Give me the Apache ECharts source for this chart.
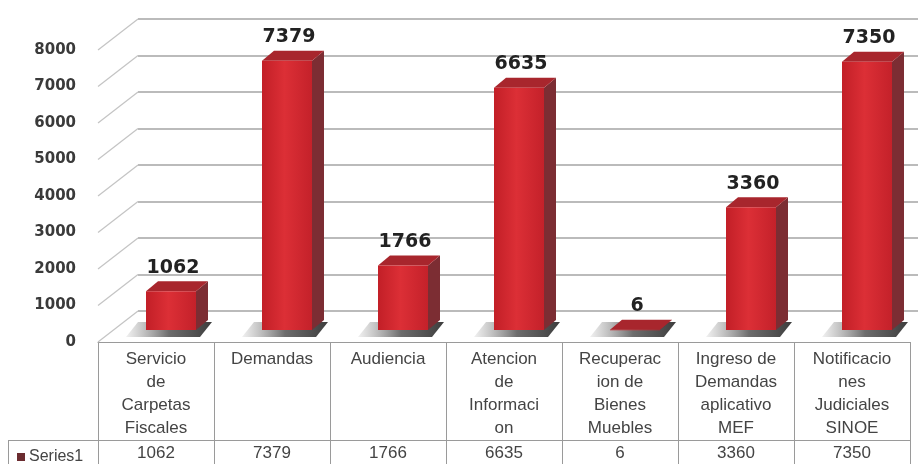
<!DOCTYPE html>
<html>
<head>
<meta charset="utf-8">
<script src="https://cdn.jsdelivr.net/npm/echarts@6/dist/echarts.min.js"></script>
<style>
  html, body { margin: 0; padding: 0; background: #fff; }
  #chart { width: 918px; height: 464px; }
</style>
</head>
<body>
<div id="chart"></div>
<script>
// datos
var categories = [
    'Servicio\nde\nCarpetas\nFiscales',
    'Demandas',
    'Audiencia',
    'Atencion\nde\nInformaci\non',
    'Recuperac\nion de\nBienes\nMuebles',
    'Ingreso de\nDemandas\naplicativo\nMEF',
    'Notificacio\nnes\nJudiciales\nSINOE'
];
var series1 = [1062, 7379, 1766, 6635, 6, 3360, 7350];
var yTicks = [0, 1000, 2000, 3000, 4000, 5000, 6000, 7000, 8000];

var chart = echarts.init(document.getElementById('chart'));

// barra "3D": sombra, cara lateral, superior y frontal
function renderBar(params, api) {
    var idx = api.value(0);
    var val = api.value(1);
    var base = api.coord([idx, 0]);
    var top = api.coord([idx, val]);
    var shift = 15, lift = 12, w = 50, dx = 12, dy = -10;
    var x0 = base[0] + shift - w / 2, x1 = x0 + w;
    var yb = base[1] - lift, yt = top[1] - lift;
    return {
        type: 'group',
        children: [
            {
                type: 'polygon',
                shape: { points: [[x0 - 20, yb + 7], [x1 + 4, yb + 7], [x1 + dx + 4, yb + dy + 2], [x0 - 8, yb + dy + 2]] },
                style: {
                    fill: { type: 'linear', x: 0, y: 0, x2: 1, y2: 0, colorStops: [
                        { offset: 0, color: 'rgba(110,110,110,0.1)' },
                        { offset: 0.5, color: 'rgba(60,60,60,0.75)' },
                        { offset: 1, color: 'rgba(40,40,40,0.9)' }
                    ] }
                }
            },
            {
                type: 'polygon',
                shape: { points: [[x1, yt], [x1 + dx, yt + dy], [x1 + dx, yb + dy], [x1, yb]] },
                style: { fill: '#7c2d33' }
            },
            {
                type: 'polygon',
                shape: { points: [[x0, yt], [x0 + dx, yt + dy], [x1 + dx, yt + dy], [x1, yt]] },
                style: { fill: '#a8262d' }
            },
            {
                type: 'rect',
                shape: { x: x0, y: yt, width: w, height: Math.max(yb - yt, 0.5) },
                style: {
                    fill: { type: 'linear', x: 0, y: 0, x2: 1, y2: 0, colorStops: [
                        { offset: 0, color: '#c21f27' },
                        { offset: 0.45, color: '#dc2f36' },
                        { offset: 1, color: '#c4212a' }
                    ] }
                }
            },
            {
                type: 'text',
                style: {
                    text: String(val),
                    x: x0 + w / 2 + 2,
                    y: yt + dy - 4,
                    align: 'center',
                    verticalAlign: 'bottom',
                    fontFamily: 'DejaVu Sans',
                    fontWeight: 'bold',
                    fontSize: 19,
                    fill: '#222'
                }
            }
        ]
    };
}

// lineas laterales de la pared (perspectiva)
function renderSide(params, api) {
    var p = api.coord([0, api.value(1)]);
    var cs = params.coordSys;
    return {
        type: 'line',
        shape: { x1: cs.x, y1: p[1], x2: cs.x + 40, y2: p[1] - 31 },
        style: { stroke: '#c4c4c4', lineWidth: 1.2 }
    };
}

var option = {
    animation: false,
    backgroundColor: '#fff',
    grid: [
        { left: 98, right: 8, top: 50, bottom: 122 },
        { left: 138, right: 0, top: 19, bottom: 153 }
    ],
    legend: {
        data: [{ name: 'Series1', icon: 'rect' }],
        left: 12,
        top: 444,
        itemWidth: 8,
        itemHeight: 8,
        itemGap: 4,
        textStyle: { fontFamily: 'Liberation Sans', fontSize: 16, color: '#444', padding: [0, 0, 0, -1] }
    },
    xAxis: [
        {
            type: 'category',
            gridIndex: 0,
            data: categories,
            axisLine: { show: true, lineStyle: { color: '#9a9a9a', width: 1 } },
            axisTick: { show: true, length: 130, lineStyle: { color: '#9a9a9a' } },
            axisLabel: {
                interval: 0,
                margin: 6,
                fontFamily: 'Liberation Sans',
                fontSize: 17,
                lineHeight: 23,
                color: '#444'
            }
        },
        {
            type: 'category',
            gridIndex: 0,
            position: 'bottom',
            offset: 98,
            data: categories,
            axisLine: { show: true, lineStyle: { color: '#9a9a9a', width: 1 } },
            axisTick: { show: false },
            axisLabel: {
                interval: 0,
                margin: 4,
                fontFamily: 'Liberation Sans',
                fontSize: 17,
                lineHeight: 18,
                color: '#444',
                formatter: function (v, i) { return String(series1[i]); }
            }
        },
        {
            type: 'value',
            gridIndex: 1,
            show: false
        }
    ],
    yAxis: [
        {
            type: 'value',
            gridIndex: 0,
            min: 0,
            max: 8000,
            interval: 1000,
            axisLine: { show: false },
            axisTick: { show: false },
            splitLine: { show: false },
            axisLabel: {
                margin: 22,
                fontFamily: 'DejaVu Sans',
                fontWeight: 'bold',
                fontSize: 15,
                color: '#3a3a3a',
                formatter: function (v) { return String(v); }
            }
        },
        {
            type: 'value',
            gridIndex: 1,
            min: 0,
            max: 8000,
            interval: 1000,
            axisLine: { show: false },
            axisTick: { show: false },
            axisLabel: { show: false },
            splitLine: { show: true, lineStyle: { color: '#a5a5a5', width: 1.6 } }
        }
    ],
    graphic: [
        { type: 'line', shape: { x1: 8, y1: 440.5, x2: 98, y2: 440.5 }, style: { stroke: '#9a9a9a', lineWidth: 1 } },
        { type: 'line', shape: { x1: 8.5, y1: 440, x2: 8.5, y2: 464 }, style: { stroke: '#9a9a9a', lineWidth: 1 } }
    ],
    series: [
        {
            type: 'custom',
            name: 'walls',
            xAxisIndex: 0,
            yAxisIndex: 0,
            z: 1,
            silent: true,
            renderItem: renderSide,
            data: yTicks.map(function (v) { return [0, v]; })
        },
        {
            type: 'custom',
            name: 'Series1',
            xAxisIndex: 0,
            yAxisIndex: 0,
            z: 5,
            itemStyle: { color: '#6b2c30' },
            renderItem: renderBar,
            data: series1.map(function (v, i) { return [i, v]; })
        }
    ]
};

chart.setOption(option);
</script>
</body>
</html>
